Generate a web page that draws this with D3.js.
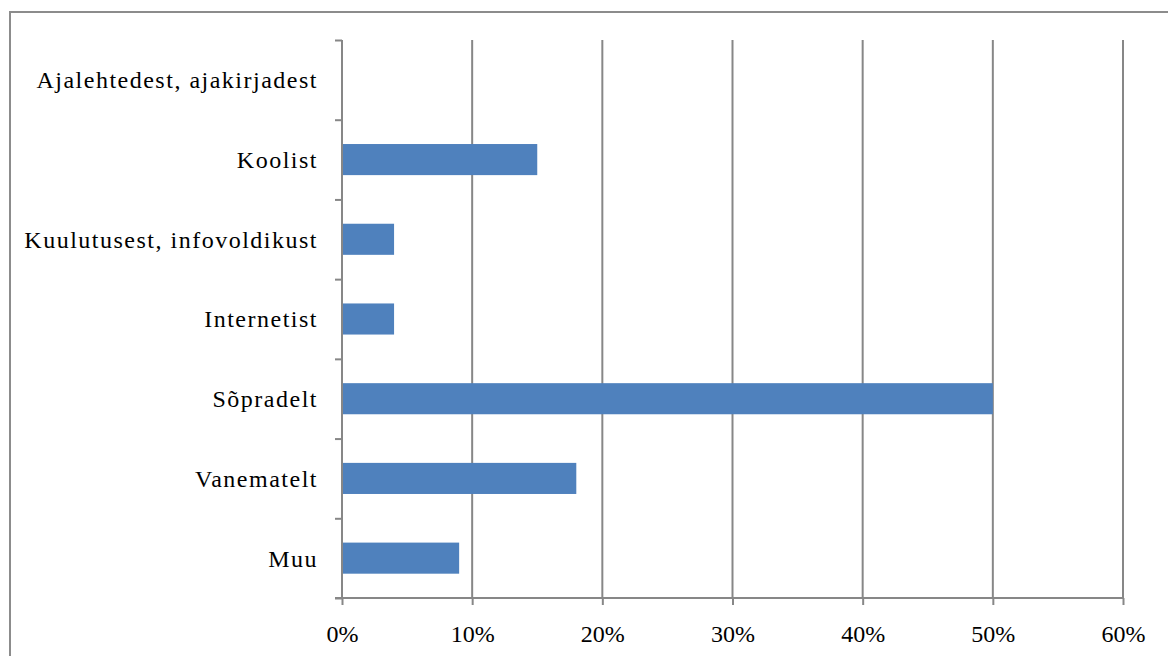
<!DOCTYPE html>
<html>
<head>
<meta charset="utf-8">
<script src="https://cdn.jsdelivr.net/npm/d3@7"></script>
<style>
  html, body { margin: 0; padding: 0; background: #fff; }
  svg { display: block; }
  text { font-family: "Liberation Serif", "Times New Roman", serif; fill: #000; }
</style>
</head>
<body>
<svg id="chart" width="1168" height="656"></svg>
<script>
// 回答カテゴリ（上から順）
const categories = [
  "Ajalehtedest, ajakirjadest",
  "Koolist",
  "Kuulutusest, infovoldikust",
  "Internetist",
  "Sõpradelt",
  "Vanematelt",
  "Muu"
];
const values = [0, 15, 4, 4, 50, 18, 9];
const xTicks = [0, 10, 20, 30, 40, 50, 60];

const W = 1168, H = 656;
const margin = { left: 342, right: 45, top: 40, bottom: 58 };
const fontSize = 24;

const svg = d3.select("#chart");

// 外枠
svg.append("rect")
  .attr("x", 10).attr("y", 12)
  .attr("width", W + 20).attr("height", H + 20)
  .attr("fill", "none")
  .attr("stroke", "#8c8c8c")
  .attr("stroke-width", 2);

const x = d3.scaleLinear().domain([0, 60]).range([margin.left, W - margin.right]);
const y = d3.scaleBand().domain(categories).range([margin.top, H - margin.bottom]).paddingInner(0.61).paddingOuter(0.305);

const gridColor = "#878787";

// 縦グリッド
svg.append("g")
  .selectAll("line")
  .data(xTicks.slice(1))
  .join("line")
  .attr("x1", d => x(d)).attr("x2", d => x(d))
  .attr("y1", margin.top).attr("y2", H - margin.bottom)
  .attr("stroke", gridColor)
  .attr("stroke-width", 2);

// 棒
svg.append("g")
  .selectAll("rect")
  .data(values)
  .join("rect")
  .attr("x", x(0))
  .attr("y", (d, i) => y(categories[i]))
  .attr("width", d => x(d) - x(0))
  .attr("height", y.bandwidth())
  .attr("fill", "#4f81bd");

// Y軸（区切り目盛り）
const yAxis = d3.axisLeft(d3.scaleLinear().domain([0, categories.length]).range([margin.top, H - margin.bottom]))
  .tickValues(d3.range(categories.length + 1))
  .tickSize(7)
  .tickFormat("");
const gy = svg.append("g").attr("transform", `translate(${x(0)},0)`).call(yAxis);
gy.select(".domain").remove();
gy.selectAll("line").attr("stroke", gridColor).attr("stroke-width", 2);
gy.append("line")
  .attr("y1", margin.top).attr("y2", H - margin.bottom)
  .attr("stroke", gridColor).attr("stroke-width", 2);

// カテゴリラベル
svg.append("g")
  .selectAll("text")
  .data(categories)
  .join("text")
  .attr("x", x(0) - 24)
  .attr("y", d => y(d) + y.bandwidth() / 2)
  .attr("dy", "0.35em")
  .attr("text-anchor", "end")
  .attr("font-size", fontSize)
  .attr("letter-spacing", 1.5)
  .text(d => d);

// X軸
const xAxis = d3.axisBottom(x).tickValues(xTicks).tickSize(7).tickFormat(d => d + "%");
const gx = svg.append("g").attr("transform", `translate(0,${H - margin.bottom})`).call(xAxis);
gx.select(".domain").remove();
gx.selectAll("line").attr("stroke", gridColor).attr("stroke-width", 2);
gx.append("line")
  .attr("x1", x(0) - 7).attr("x2", x(60))
  .attr("stroke", gridColor).attr("stroke-width", 2);
gx.selectAll("text")
  .attr("font-size", fontSize)
  .attr("fill", "#000")
  .attr("y", 44)
  .attr("dy", 0);
</script>
</body>
</html>
